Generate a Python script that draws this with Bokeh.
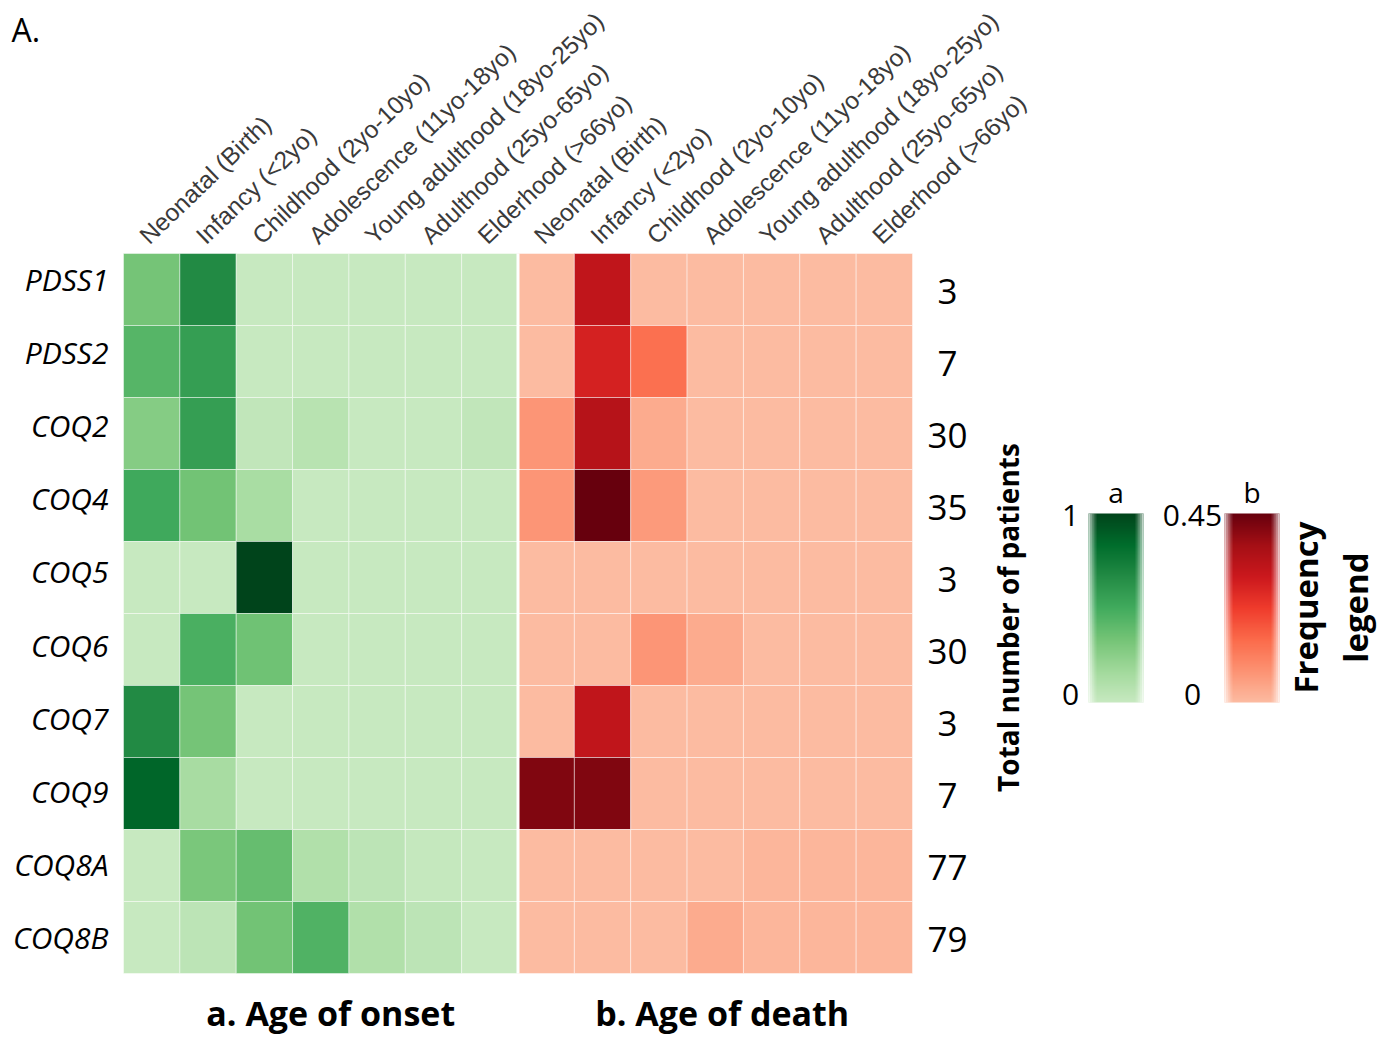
import numpy as np
from bokeh.plotting import figure
from bokeh.models import ColumnDataSource, LinearColorMapper, Range1d, FixedTicker, ColorBar
from bokeh.core.properties import value
from bokeh.palettes import Greens9, Reds9
from bokeh.embed import file_html
from bokeh.resources import INLINE

# ---------------- data ----------------
stages = ["Neonatal (Birth)", "Infancy (<2yo)", "Childhood (2yo-10yo)",
          "Adolescence (11yo-18yo)", "Young adulthood (18yo-25yo)",
          "Adulthood (25yo-65yo)", "Elderhood (>66yo)"]
genes = ["PDSS1", "PDSS2", "COQ2", "COQ4", "COQ5", "COQ6", "COQ7", "COQ9", "COQ8A", "COQ8B"]
totals = [3, 7, 30, 35, 3, 30, 3, 7, 77, 79]
panel_titles = ["a. Age of onset", "b. Age of death"]

# frequency of age of onset (rows = genes, cols = stages)
onset_freq = [
    [0.33, 0.67, 0.00, 0.00, 0.00, 0.00, 0.00],
    [0.43, 0.57, 0.00, 0.00, 0.00, 0.00, 0.00],
    [0.27, 0.57, 0.03, 0.07, 0.00, 0.00, 0.03],
    [0.51, 0.34, 0.13, 0.00, 0.00, 0.00, 0.00],
    [0.00, 0.00, 1.00, 0.00, 0.00, 0.00, 0.00],
    [0.00, 0.47, 0.35, 0.00, 0.00, 0.00, 0.00],
    [0.67, 0.33, 0.00, 0.00, 0.00, 0.00, 0.00],
    [0.86, 0.14, 0.00, 0.00, 0.00, 0.00, 0.00],
    [0.00, 0.31, 0.38, 0.10, 0.05, 0.01, 0.00],
    [0.00, 0.05, 0.34, 0.45, 0.10, 0.05, 0.00],
]
# frequency of age of death (rows = genes, cols = stages)
death_freq = [
    [0.00, 0.32, 0.00, 0.00, 0.00, 0.00, 0.00],
    [0.00, 0.28, 0.14, 0.00, 0.00, 0.00, 0.00],
    [0.07, 0.34, 0.03, 0.00, 0.00, 0.00, 0.00],
    [0.07, 0.45, 0.06, 0.00, 0.00, 0.00, 0.00],
    [0.00, 0.00, 0.00, 0.00, 0.00, 0.00, 0.00],
    [0.00, 0.00, 0.07, 0.03, 0.00, 0.00, 0.00],
    [0.00, 0.32, 0.00, 0.00, 0.00, 0.00, 0.00],
    [0.42, 0.42, 0.00, 0.00, 0.00, 0.00, 0.00],
    [0.00, 0.00, 0.00, 0.00, 0.01, 0.01, 0.01],
    [0.00, 0.00, 0.00, 0.03, 0.01, 0.01, 0.01],
]
onset_max = 1.0
death_max = 0.45
scale_labels = [("1", "0"), ("0.45", "0")]
scale_names = ["a", "b"]


def ramp(colors, n=256):
    rgb = np.array([[int(c[i:i + 2], 16) for i in (1, 3, 5)] for c in colors], float)
    t = np.linspace(0, 1, len(colors))
    tt = np.linspace(0, 1, n)
    out = np.stack([np.interp(tt, t, rgb[:, k]) for k in range(3)], axis=1)
    return ["#%02x%02x%02x" % tuple(int(round(v)) for v in row) for row in out]


green_map = LinearColorMapper(palette=ramp(list(reversed(Greens9[:7]))), low=0, high=onset_max)
red_map = LinearColorMapper(palette=ramp(list(reversed(Reds9[:7]))), low=0, high=death_max)

nst = len(stages)
ng = len(genes)

# ---------------- layout (pixels) ----------------
W, H = 1380, 1037
LEFT, TOP, CELL_W, CELL_H = 123, 253, 789 / 14, 72
FONT = value("Open Sans")
ARIAL = value("Liberation Sans")


def dx(px):  # pixel distance -> data x distance
    return px / CELL_W


def dy(px):  # pixel distance -> data y distance (y grows downward)
    return px / CELL_H


def X(px):
    return (px - LEFT) / CELL_W


def Y(px):
    return (px - TOP) / CELL_H


p = figure(width=W, height=H,
           x_range=Range1d(X(0), X(W)), y_range=Range1d(Y(H), Y(0)),
           output_backend="svg", toolbar_location=None,
           x_axis_location=None, y_axis_location=None,
           min_border=0)
p.outline_line_color = None
p.xgrid.visible = False
p.ygrid.visible = False


def cells(matrix, offset):
    xs, ys, vs = [], [], []
    for gi, row in enumerate(matrix):
        for j, v in enumerate(row):
            xs.append(offset + j + 0.5)
            ys.append(gi + 0.5)
            vs.append(v)
    return ColumnDataSource(dict(x=xs, y=ys, v=vs))


p.rect(x="x", y="y", width=1, height=1, source=cells(onset_freq, 0),
       fill_color={"field": "v", "transform": green_map},
       line_color="white", line_alpha=0.45, line_width=1)
p.rect(x="x", y="y", width=1, height=1, source=cells(death_freq, nst),
       fill_color={"field": "v", "transform": red_map},
       line_color="white", line_alpha=0.45, line_width=1)
p.segment(x0=[nst], y0=[0], x1=[nst], y1=[ng], line_color="white", line_width=3)

# stage labels above the columns
col_x = [i + 0.5 - dx(8) for i in range(2 * nst)]
p.text(x=col_x, y=[-dy(14)] * (2 * nst), text=stages * 2, angle=np.deg2rad(44),
       text_align="left", text_baseline="middle", text_font=ARIAL,
       text_font_size="24.5px", text_color="#3a3a3a")

# gene names at the left
p.text(x=[-dx(15)] * ng, y=[i + 0.5 + dy(-10 + 1.1 * i) for i in range(ng)], text=genes,
       text_align="right", text_baseline="middle", text_font=FONT,
       text_font_style="italic", text_font_size="30px", text_color="black")

# patient totals at the right
p.text(x=[2 * nst + dx(35)] * ng, y=[i + 0.5 + dy(2) for i in range(ng)],
       text=[str(n) for n in totals], text_align="center", text_baseline="middle",
       text_font=FONT, text_font_size="35px", text_color="black")
p.text(x=[X(1007)], y=[Y(617)], text=["Total number of patients"], angle=np.pi / 2,
       text_align="center", text_baseline="middle", text_font=FONT,
       text_font_style="bold", text_font_size="28px", text_color="black")

# panel titles below
p.text(x=[nst / 2 + dx(10), nst + nst / 2 + dx(7)], y=[ng + dy(39)] * 2, text=panel_titles,
       text_align="center", text_baseline="middle", text_font=FONT,
       text_font_style="bold", text_font_size="34px", text_color="black")

# panel letter
p.text(x=[X(11)], y=[Y(29)], text=["A."], text_align="left", text_baseline="middle",
       text_font=FONT, text_font_size="32px", text_color="black")

# colour scales
bar_left = [1088, 1224]
bar_top, bar_bot, bar_w = 513, 702, 55
for mapper, bx in zip((green_map, red_map), bar_left):
    cb = ColorBar(color_mapper=mapper, width=bar_w, height=bar_bot - bar_top,
                  location=(bx, H - bar_bot), orientation="vertical",
                  padding=0, margin=0, ticker=FixedTicker(ticks=[]),
                  major_tick_line_color=None, minor_tick_line_color=None,
                  bar_line_color=None, border_line_color=None,
                  background_fill_alpha=0, major_label_text_font_size="0px")
    p.add_layout(cb, "center")

# soft (feathered) side edges of the colour scales
fl, fr, fa = [], [], []
for bx in bar_left:
    for k, a in enumerate([0.75, 0.5, 0.3, 0.12]):
        fl += [X(bx + 2 * k), X(bx + bar_w - 2 * k - 2)]
        fr += [X(bx + 2 * k + 2), X(bx + bar_w - 2 * k)]
        fa += [a, a]
p.quad(left=fl, right=fr, top=[Y(bar_top)] * len(fl), bottom=[Y(bar_bot)] * len(fl),
       fill_color="white", fill_alpha=fa, line_color=None, level="overlay")

lab_x = [X(1070), X(1192)]
p.text(x=lab_x + lab_x, y=[Y(515)] * 2 + [Y(694)] * 2,
       text=[scale_labels[0][0], scale_labels[1][0], scale_labels[0][1], scale_labels[1][1]],
       text_align="center", text_baseline="middle", text_font=FONT,
       text_font_size="30px", text_color="black")
p.text(x=[X(bx + bar_w / 2) for bx in bar_left], y=[Y(491)] * 2, text=scale_names,
       text_align="center", text_baseline="middle", text_font=FONT,
       text_font_size="28px", text_color="black")
p.text(x=[X(1305), X(1355)], y=[Y(607)] * 2, text=["Frequency", "legend"], angle=np.pi / 2,
       text_align="center", text_baseline="middle", text_font=FONT,
       text_font_style="bold", text_font_size="33px", text_color="black")

open("out.html", "w").write(file_html(p, INLINE))
